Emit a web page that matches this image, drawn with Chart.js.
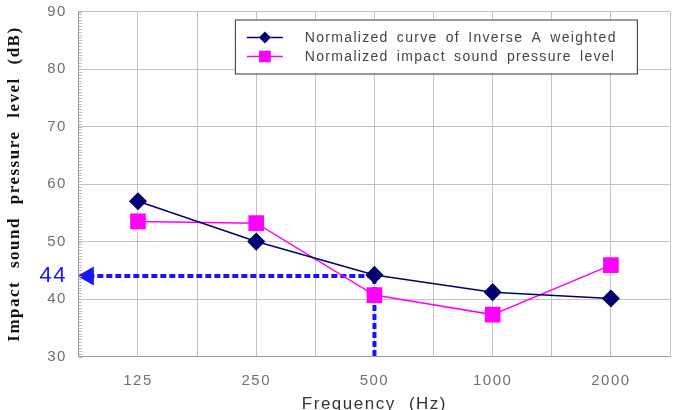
<!DOCTYPE html>
<html>
<head>
<meta charset="utf-8">
<script src="https://cdn.jsdelivr.net/npm/chart.js@4"></script>
<style>
  html, body { margin: 0; padding: 0; background: #fff; overflow: hidden; }
  #wrap { position: relative; width: 685px; height: 415px; }
</style>
</head>
<body>
<div id="wrap"><canvas id="soundChart"></canvas></div>
<script>
"use strict";

// Data
const frequencies = ["125", "250", "500", "1000", "2000"];
const inverseAWeighted = [57, 50, 44.2, 41.2, 40.1];
const impactLevel = [53.5, 53.2, 40.7, 37.3, 45.9];
const markedLevel = 44;      // read-off value
const markedIndex = 2;       // at 500 Hz
const yTicks = [30, 40, 50, 60, 70, 80, 90];

const seriesLabels = [
  "Normalized curve of Inverse A weighted",
  "Normalized impact sound pressure level",
];

const NAVY = "#000070";
const MAGENTA = "#ff00ff";
const GUIDE = "#1414ff";
const TICK_FONT = { family: "'Liberation Sans', Arial, sans-serif", size: 15 };

const toPoints = (arr) => arr.map((v, i) => ({ x: i, y: v }));

// dotted read-off guide: from the y axis to the 500 Hz point, then down
const guidePoints = [
  { x: -0.42, y: markedLevel },
  { x: markedIndex, y: markedLevel },
  { x: markedIndex, y: yTicks[0] },
];

// text spacing like the original (Korean system font look)
const spacingPlugin = {
  id: "spacing",
  beforeDraw(chart) {
    chart.ctx.letterSpacing = "1.5px";
    chart.ctx.wordSpacing = "7px";
  },
  beforeDatasetsDraw(chart) {
    chart.ctx.letterSpacing = "0px";
    chart.ctx.wordSpacing = "0px";
  },
};

// small inner ticks on the y axis
const minorTicksPlugin = {
  id: "minorTicks",
  afterDraw(chart) {
    const { ctx, scales } = chart;
    const y = scales.y;
    ctx.save();
    ctx.strokeStyle = "#b8b8b8";
    ctx.lineWidth = 1;
    for (let v = yTicks[0]; v <= yTicks[yTicks.length - 1]; v += 0.5) {
      const py = Math.round(y.getPixelForValue(v)) + 0.5;
      ctx.beginPath();
      ctx.moveTo(y.right, py);
      ctx.lineTo(y.right + 3, py);
      ctx.stroke();
    }
    ctx.restore();
  },
};

// boxed legend inside the plot
const boxLegendPlugin = {
  id: "boxLegend",
  afterDraw(chart) {
    const { ctx, chartArea } = chart;
    const left = chartArea.left + 156;
    const top = chartArea.top + 8;
    const w = 402;
    const h = 54;
    ctx.save();
    ctx.fillStyle = "#fff";
    ctx.fillRect(left, top, w, h);
    ctx.strokeStyle = "#333";
    ctx.lineWidth = 1;
    ctx.strokeRect(left + 0.5, top + 0.5, w, h);

    ctx.font = "14px 'Liberation Sans', Arial, sans-serif";
    ctx.letterSpacing = "1.3px";
    ctx.wordSpacing = "3px";
    ctx.textBaseline = "middle";
    chart.data.datasets.slice(0, 2).forEach((ds, i) => {
      const cy = top + 18 + i * 19;
      ctx.strokeStyle = ds.borderColor;
      ctx.lineWidth = 1.5;
      ctx.beginPath();
      ctx.moveTo(left + 12, cy);
      ctx.lineTo(left + 48, cy);
      ctx.stroke();
      Chart.helpers.drawPoint(ctx, {
        pointStyle: ds.pointStyle,
        radius: i === 0 ? 6 : 8,
        borderWidth: 0,
        rotation: 0,
      }, left + 30, cy);
      ctx.fillStyle = ds.pointBackgroundColor;
      ctx.fill();
      ctx.fillStyle = "#444";
      ctx.fillText(ds.label, left + 70, cy + 1);
    });
    ctx.restore();
  },
};

const ctx = document.getElementById("soundChart").getContext("2d");

new Chart(ctx, {
  type: "line",
  data: {
    datasets: [
      {
        label: seriesLabels[0],
        data: toPoints(inverseAWeighted),
        borderColor: NAVY,
        backgroundColor: NAVY,
        pointBackgroundColor: NAVY,
        pointBorderColor: NAVY,
        pointStyle: "rectRot",
        pointRadius: 8,
        borderWidth: 1.5,
      },
      {
        label: seriesLabels[1],
        data: toPoints(impactLevel),
        borderColor: MAGENTA,
        backgroundColor: MAGENTA,
        pointBackgroundColor: MAGENTA,
        pointBorderColor: MAGENTA,
        pointStyle: "rect",
        pointRadius: 10,
        borderWidth: 1.5,
      },
      {
        label: "guide",
        data: guidePoints,
        borderColor: GUIDE,
        backgroundColor: GUIDE,
        borderWidth: 4,
        borderDash: [6, 3],
        pointStyle: "triangle",
        pointRotation: [-90, 0, 0],
        pointRadius: [7, 0, 0],
        pointBackgroundColor: GUIDE,
        pointBorderColor: GUIDE,
      },
    ],
  },
  options: {
    responsive: true,
    maintainAspectRatio: false,
    animation: false,
    layout: { padding: { left: 4, right: 14, top: 0, bottom: 0 } },
    plugins: {
      legend: { display: false },
      tooltip: { enabled: false },
    },
    scales: {
      x: {
        type: "linear",
        min: -0.5,
        max: frequencies.length - 0.5,
        grid: { color: "#c4c4c4", drawTicks: false },
        border: { color: "#9a9a9a" },
        ticks: {
          stepSize: 0.5,
          autoSkip: false,
          maxRotation: 0,
          padding: 15,
          color: "#707070",
          font: TICK_FONT,
          callback: (v) => (Number.isInteger(v) ? frequencies[v] : ""),
        },
        title: {
          display: true,
          text: "Frequency (Hz)",
          color: "#333",
          padding: { top: -10, bottom: 0 },
          font: { family: "'Liberation Sans', Arial, sans-serif", size: 17 },
        },
      },
      y: {
        min: yTicks[0],
        max: yTicks[yTicks.length - 1],
        afterBuildTicks(scale) {
          scale.ticks = yTicks.concat([markedLevel])
            .sort((a, b) => a - b)
            .map((v) => ({ value: v }));
        },
        afterFit(scale) {
          // top label only needs half its height above the plot
          scale.paddingTop = 10;
        },
        grid: {
          color: (c) => (c.tick && c.tick.value === markedLevel ? "rgba(0,0,0,0)" : "#c4c4c4"),
          drawTicks: false,
        },
        border: { color: "#9a9a9a" },
        ticks: {
          padding: 12,
          color: (c) => (c.tick && c.tick.value === markedLevel ? GUIDE : "#707070"),
          font: (c) => (c.tick && c.tick.value === markedLevel
            ? { family: TICK_FONT.family, size: 22 }
            : TICK_FONT),
        },
        title: {
          display: true,
          text: "Impact sound pressure level (dB)",
          color: "#111",
          padding: { top: 0, bottom: 6 },
          font: { family: "'Liberation Serif', 'Times New Roman', serif", size: 17, weight: "bold" },
        },
      },
    },
  },
  plugins: [spacingPlugin, minorTicksPlugin, boxLegendPlugin],
});
</script>
</body>
</html>
